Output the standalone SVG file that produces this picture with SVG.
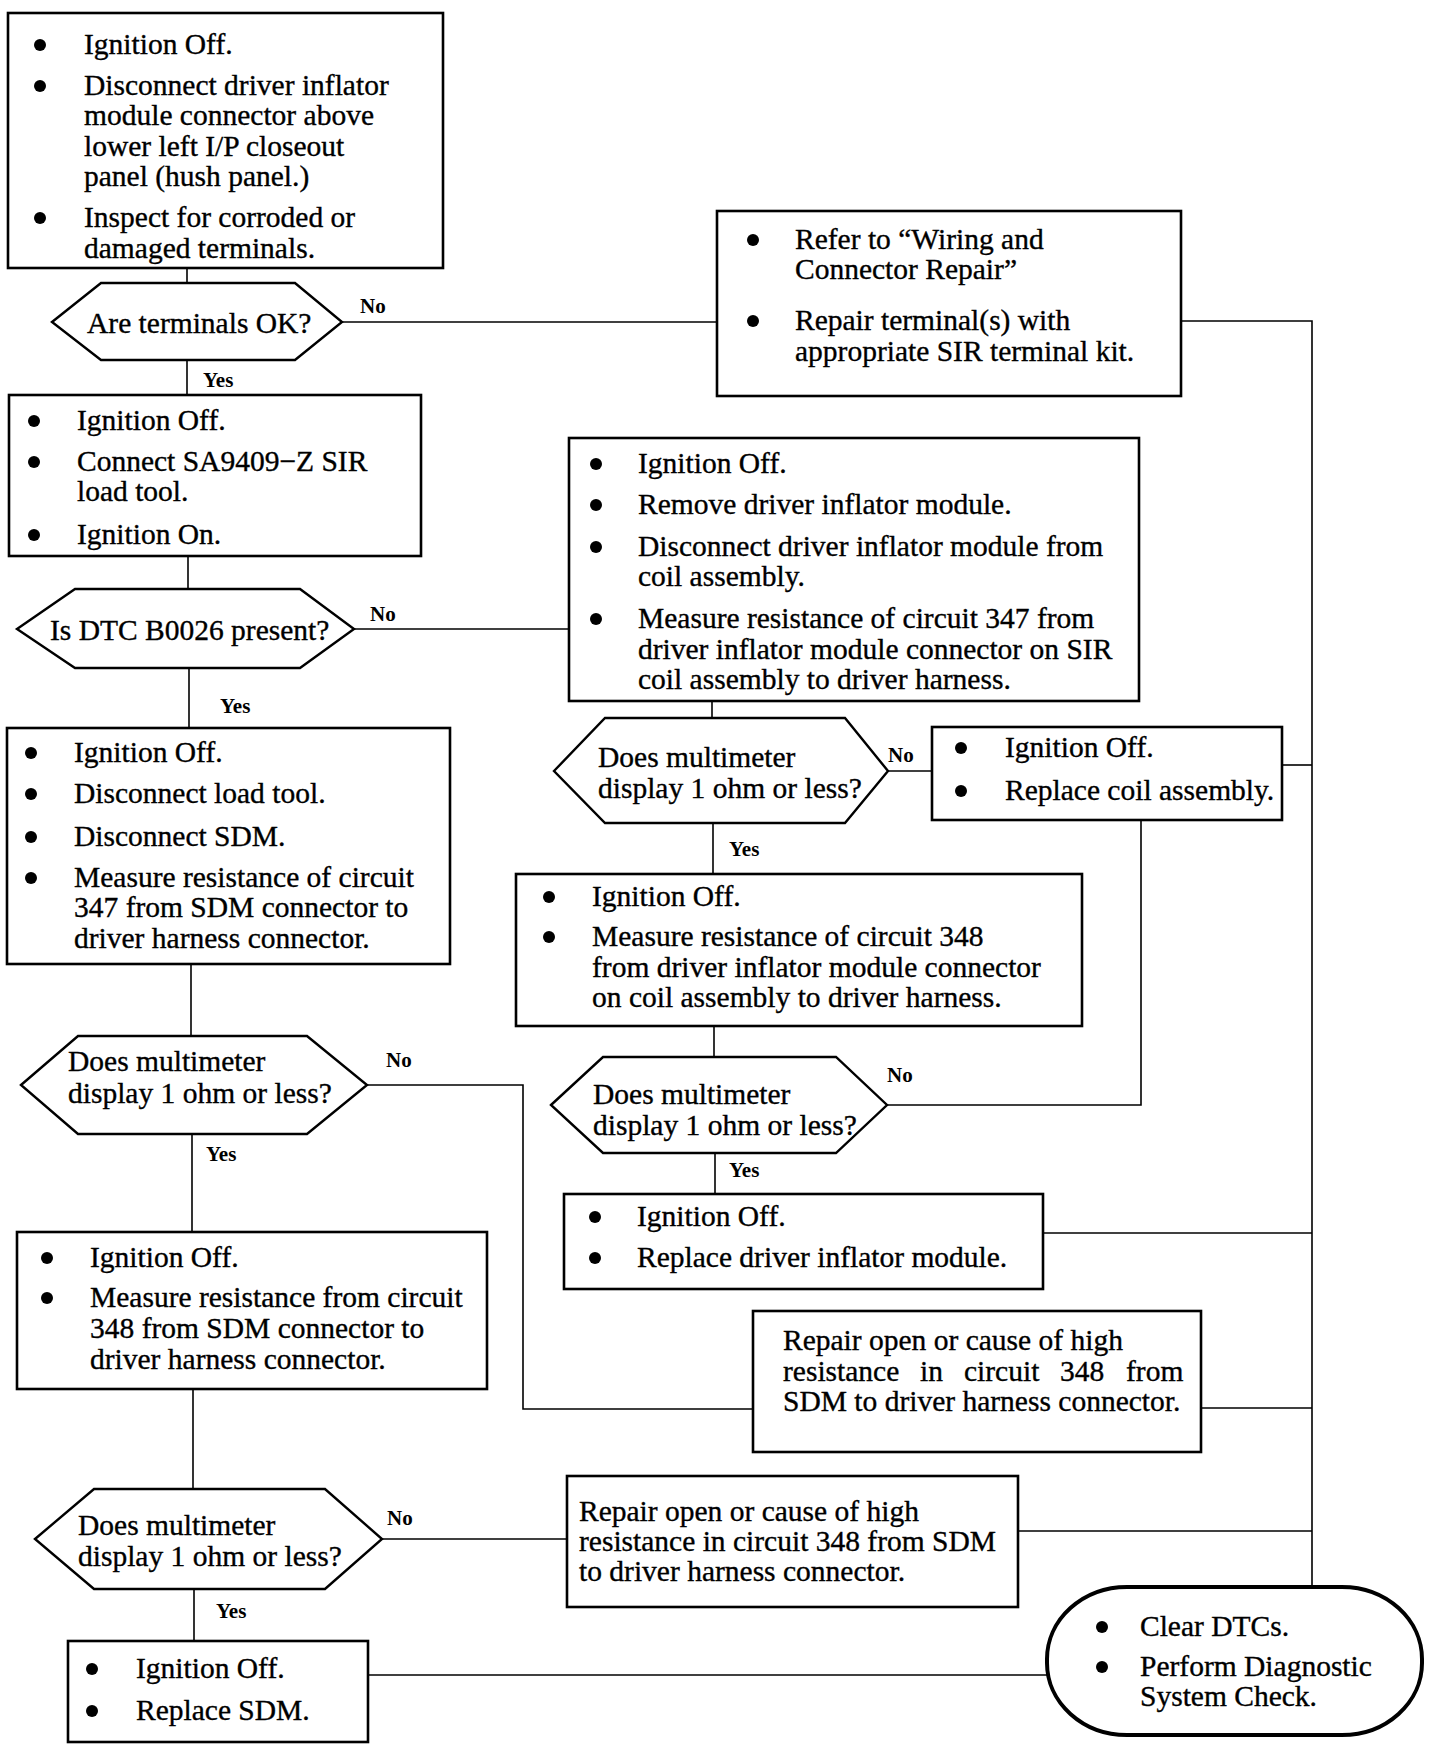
<svg xmlns="http://www.w3.org/2000/svg" width="1456" height="1758" viewBox="0 0 1456 1758">
<style>
.box{fill:#fff;stroke:#000;stroke-width:2.6}
.hex{fill:#fff;stroke:#000;stroke-width:2.4}
.term{fill:#fff;stroke:#000;stroke-width:4}
.c{fill:none;stroke:#000;stroke-width:1.6}
.t{font-family:"Liberation Serif","Times New Roman",serif;font-size:29.5px;fill:#000;stroke:#000;stroke-width:0.35}
.l{font-family:"Liberation Serif","Times New Roman",serif;font-size:21px;font-weight:bold;fill:#000}
.b{fill:#000}
</style>
<rect width="1456" height="1758" fill="#fff"/>
<g id="connectors">
<path class="c" d="M187,269 V283"/>
<path class="c" d="M342,322 H717"/>
<path class="c" d="M187,360 V395"/>
<path class="c" d="M188,556 V589"/>
<path class="c" d="M354,629 H569"/>
<path class="c" d="M189,668 V728"/>
<path class="c" d="M191,964 V1036"/>
<path class="c" d="M367,1085 H523 V1409 H753"/>
<path class="c" d="M192,1134 V1232"/>
<path class="c" d="M193,1389 V1489"/>
<path class="c" d="M382,1539 H567"/>
<path class="c" d="M194,1589 V1641"/>
<path class="c" d="M368,1675 H1047"/>
<path class="c" d="M1181,321 H1312 V1587"/>
<path class="c" d="M712,701 V718"/>
<path class="c" d="M888,771 H932"/>
<path class="c" d="M713,823 V874"/>
<path class="c" d="M1282,765 H1312"/>
<path class="c" d="M714,1026 V1057"/>
<path class="c" d="M887,1105 H1141 V820"/>
<path class="c" d="M715,1153 V1194"/>
<path class="c" d="M1043,1233 H1312"/>
<path class="c" d="M1201,1408 H1312"/>
<path class="c" d="M1018,1531 H1312"/>
<text class="l" x="360" y="313">No</text>
<text class="l" x="203" y="387">Yes</text>
<text class="l" x="370" y="621">No</text>
<text class="l" x="220" y="713">Yes</text>
<text class="l" x="386" y="1067">No</text>
<text class="l" x="206" y="1161">Yes</text>
<text class="l" x="387" y="1525">No</text>
<text class="l" x="216" y="1618">Yes</text>
<text class="l" x="888" y="762">No</text>
<text class="l" x="729" y="856">Yes</text>
<text class="l" x="887" y="1082">No</text>
<text class="l" x="729" y="1177">Yes</text>
</g>
<g id="n1">
<rect class="box" x="8" y="13" width="435" height="255"/>
<circle class="b" cx="40" cy="45" r="6"/><circle class="b" cx="40" cy="86" r="6"/><circle class="b" cx="40" cy="218" r="6"/>
<text class="t" x="84" y="54">Ignition Off.</text>
<text class="t" x="84" y="95">Disconnect driver inflator</text>
<text class="t" x="84" y="125">module connector above</text>
<text class="t" x="84" y="156">lower left I/P closeout</text>
<text class="t" x="84" y="186">panel (hush panel.)</text>
<text class="t" x="84" y="227">Inspect for corroded or</text>
<text class="t" x="84" y="258">damaged terminals.</text>
</g>
<g id="d1">
<polygon class="hex" points="52,322 101,283 295,283 342,322 295,360 101,360"/>
<text class="t" x="87" y="333">Are terminals OK?</text>
</g>
<g id="n2">
<rect class="box" x="717" y="211" width="464" height="185"/>
<circle class="b" cx="753" cy="240" r="6"/><circle class="b" cx="753" cy="321" r="6"/>
<text class="t" x="795" y="249">Refer to “Wiring and</text>
<text class="t" x="795" y="279">Connector Repair”</text>
<text class="t" x="795" y="330">Repair terminal(s) with</text>
<text class="t" x="795" y="361">appropriate SIR terminal kit.</text>
</g>
<g id="n3">
<rect class="box" x="9" y="395" width="412" height="161"/>
<circle class="b" cx="34" cy="421" r="6"/><circle class="b" cx="34" cy="462" r="6"/><circle class="b" cx="34" cy="535" r="6"/>
<text class="t" x="77" y="430">Ignition Off.</text>
<text class="t" x="77" y="471">Connect SA9409−Z SIR</text>
<text class="t" x="77" y="501">load tool.</text>
<text class="t" x="77" y="544">Ignition On.</text>
</g>
<g id="d2">
<polygon class="hex" points="17,629 75,589 300,589 354,629 300,668 75,668"/>
<text class="t" x="50" y="640">Is DTC B0026 present?</text>
</g>
<g id="n4">
<rect class="box" x="569" y="438" width="570" height="263"/>
<circle class="b" cx="596" cy="464" r="6"/><circle class="b" cx="596" cy="505" r="6"/><circle class="b" cx="596" cy="547" r="6"/><circle class="b" cx="596" cy="619" r="6"/>
<text class="t" x="638" y="473">Ignition Off.</text>
<text class="t" x="638" y="514">Remove driver inflator module.</text>
<text class="t" x="638" y="556">Disconnect driver inflator module from</text>
<text class="t" x="638" y="586">coil assembly.</text>
<text class="t" x="638" y="628">Measure resistance of circuit 347 from</text>
<text class="t" x="638" y="659">driver inflator module connector on SIR</text>
<text class="t" x="638" y="689">coil assembly to driver harness.</text>
</g>
<g id="n5">
<rect class="box" x="7" y="728" width="443" height="236"/>
<circle class="b" cx="31" cy="753" r="6"/><circle class="b" cx="31" cy="794" r="6"/><circle class="b" cx="31" cy="837" r="6"/><circle class="b" cx="31" cy="878" r="6"/>
<text class="t" x="74" y="762">Ignition Off.</text>
<text class="t" x="74" y="803">Disconnect load tool.</text>
<text class="t" x="74" y="846">Disconnect SDM.</text>
<text class="t" x="74" y="887">Measure resistance of circuit</text>
<text class="t" x="74" y="917">347 from SDM connector to</text>
<text class="t" x="74" y="948">driver harness connector.</text>
</g>
<g id="d3">
<polygon class="hex" points="554,771 605,718 845,718 888,771 845,823 605,823"/>
<text class="t" x="598" y="767">Does multimeter</text>
<text class="t" x="598" y="798">display 1 ohm or less?</text>
</g>
<g id="n6">
<rect class="box" x="932" y="727" width="350" height="93"/>
<circle class="b" cx="961" cy="748" r="6"/><circle class="b" cx="961" cy="791" r="6"/>
<text class="t" x="1005" y="757">Ignition Off.</text>
<text class="t" x="1005" y="800">Replace coil assembly.</text>
</g>
<g id="n7">
<rect class="box" x="516" y="874" width="566" height="152"/>
<circle class="b" cx="549" cy="897" r="6"/><circle class="b" cx="549" cy="937" r="6"/>
<text class="t" x="592" y="906">Ignition Off.</text>
<text class="t" x="592" y="946">Measure resistance of circuit 348</text>
<text class="t" x="592" y="977">from driver inflator module connector</text>
<text class="t" x="592" y="1007">on coil assembly to driver harness.</text>
</g>
<g id="d4">
<polygon class="hex" points="21,1085 78,1036 307,1036 367,1085 307,1134 78,1134"/>
<text class="t" x="68" y="1071">Does multimeter</text>
<text class="t" x="68" y="1103">display 1 ohm or less?</text>
</g>
<g id="d5">
<polygon class="hex" points="551,1105 603,1057 836,1057 887,1105 836,1153 603,1153"/>
<text class="t" x="593" y="1104">Does multimeter</text>
<text class="t" x="593" y="1135">display 1 ohm or less?</text>
</g>
<g id="n8">
<rect class="box" x="564" y="1194" width="479" height="95"/>
<circle class="b" cx="595" cy="1217" r="6"/><circle class="b" cx="595" cy="1258" r="6"/>
<text class="t" x="637" y="1226">Ignition Off.</text>
<text class="t" x="637" y="1267">Replace driver inflator module.</text>
</g>
<g id="n9">
<rect class="box" x="17" y="1232" width="470" height="157"/>
<circle class="b" cx="47" cy="1258" r="6"/><circle class="b" cx="47" cy="1298" r="6"/>
<text class="t" x="90" y="1267">Ignition Off.</text>
<text class="t" x="90" y="1307">Measure resistance from circuit</text>
<text class="t" x="90" y="1338">348 from SDM connector to</text>
<text class="t" x="90" y="1369">driver harness connector.</text>
</g>
<g id="n10">
<rect class="box" x="753" y="1311" width="448" height="141"/>
<text class="t" x="783" y="1350">Repair open or cause of high</text>
<text class="t" y="1381"><tspan x="783">resistance</tspan><tspan x="920">in</tspan><tspan x="964">circuit</tspan><tspan x="1060">348</tspan><tspan x="1126">from</tspan></text>
<text class="t" x="783" y="1411">SDM to driver harness connector.</text>
</g>
<g id="d6">
<polygon class="hex" points="35,1539 94,1489 325,1489 382,1539 325,1589 94,1589"/>
<text class="t" x="78" y="1535">Does multimeter</text>
<text class="t" x="78" y="1566">display 1 ohm or less?</text>
</g>
<g id="n11">
<rect class="box" x="567" y="1476" width="451" height="131"/>
<text class="t" x="579" y="1521">Repair open or cause of high</text>
<text class="t" x="579" y="1551">resistance in circuit 348 from SDM</text>
<text class="t" x="579" y="1581">to driver harness connector.</text>
</g>
<g id="n12">
<rect class="box" x="68" y="1641" width="300" height="101"/>
<circle class="b" cx="92" cy="1669" r="6"/><circle class="b" cx="92" cy="1711" r="6"/>
<text class="t" x="136" y="1678">Ignition Off.</text>
<text class="t" x="136" y="1720">Replace SDM.</text>
</g>
<g id="n13">
<rect class="term" x="1047" y="1587" width="375" height="148" rx="80" ry="72"/>
<circle class="b" cx="1102" cy="1627" r="6"/><circle class="b" cx="1102" cy="1667" r="6"/>
<text class="t" x="1140" y="1636">Clear DTCs.</text>
<text class="t" x="1140" y="1676">Perform Diagnostic</text>
<text class="t" x="1140" y="1706">System Check.</text>
</g>
</svg>
